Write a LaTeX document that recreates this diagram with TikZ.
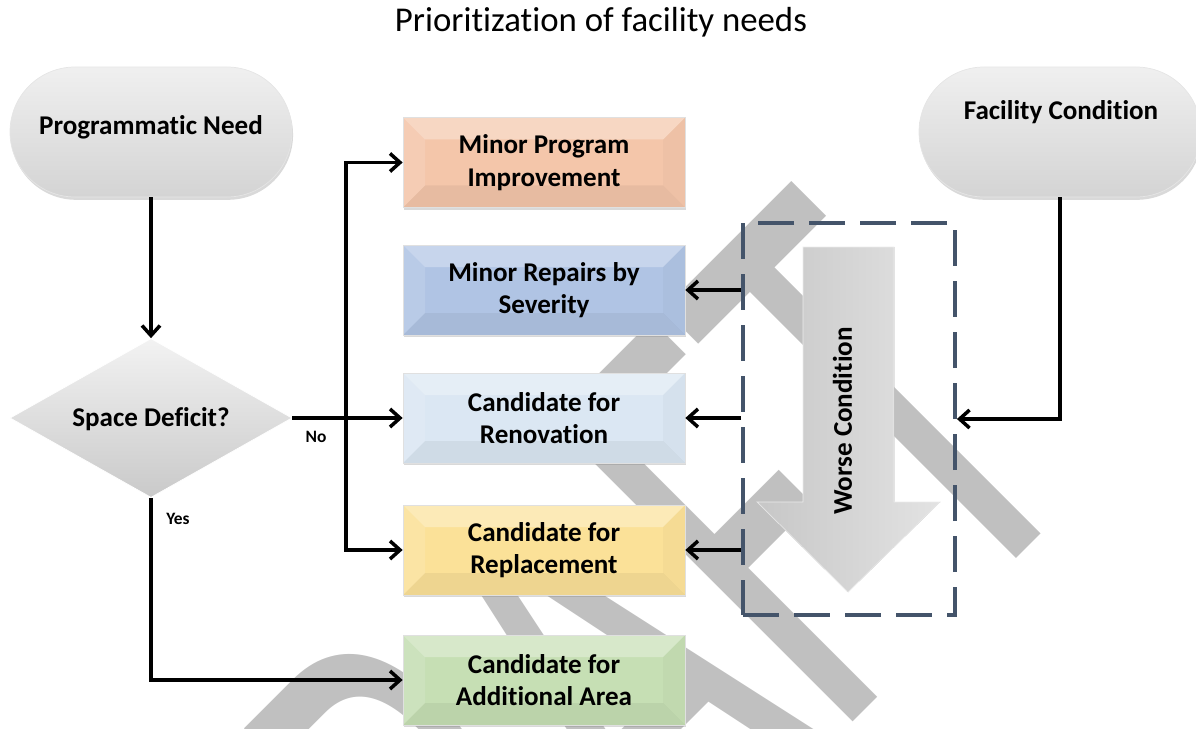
\documentclass[tikz,border=0pt]{standalone}
\usepackage{fontspec}
\setmainfont{Carlito}[Ligatures=NoCommon]
\usepackage{xcolor}
\usetikzlibrary{shapes, arrows.meta, shadows, calc, positioning}
\definecolor{facpeach}{RGB}{244,198,170}
\definecolor{facblue}{RGB}{176,196,228}
\definecolor{facpale}{RGB}{219,231,243}
\definecolor{facyellow}{RGB}{251,225,152}
\definecolor{facgreen}{RGB}{198,223,180}
\definecolor{facslate}{RGB}{68,84,106}
\definecolor{facwatermark}{RGB}{192,192,192}
\newcommand{\boxfont}{\bfseries\fontsize{15.4}{18.5}\selectfont}
\newcommand{\pb}{path picture bounding box}
\tikzset{bevel/.style={path picture={
    \fill [white, opacity=0.3] (\pb.north west) -- (\pb.north east) -- ([shift={(-#1,-#1)}]\pb.north east) -- ([shift={(#1,-#1)}]\pb.north west) -- cycle;
    \fill [white, opacity=0.12] (\pb.north west) -- ([shift={(#1,-#1)}]\pb.north west) -- ([shift={(#1,#1)}]\pb.south west) -- (\pb.south west) -- cycle;
    \fill [black, opacity=0.025] (\pb.north east) -- ([shift={(-#1,-#1)}]\pb.north east) -- ([shift={(-#1,#1)}]\pb.south east) -- (\pb.south east) -- cycle;
    \fill [black, opacity=0.05] (\pb.south west) -- ([shift={(#1,#1)}]\pb.south west) -- ([shift={(-#1,#1)}]\pb.south east) -- (\pb.south east) -- cycle;
}}}
\tikzset{box/.style={rectangle, draw=black!12, minimum width=5.64cm, minimum height=1.8cm, align=center, font=\boxfont, bevel=0.44cm, drop shadow={opacity=0.3, shadow xshift=0.6pt, shadow yshift=-1.4pt}}}
\tikzset{boxc1/.style={box, fill=facpeach}}
\tikzset{boxc2/.style={box, fill=facblue}}
\tikzset{boxc3/.style={box, fill=facpale}}
\tikzset{boxc4/.style={box, fill=facyellow}}
\tikzset{boxc5/.style={box, fill=facgreen}}
\tikzset{pill/.style={rectangle, rounded corners=1.3cm, minimum width=5.64cm, minimum height=2.6cm, draw=black!10, top color=black!6, bottom color=black!17, drop shadow={opacity=0.3, shadow xshift=0.6pt, shadow yshift=-1.6pt}}}
\tikzset{decision/.style={diamond, minimum width=5.64cm, minimum height=3.18cm, inner sep=0pt, draw=white, top color=black!5, bottom color=black!21}}
\tikzset{bigarrow/.style={draw=black!8, left color=black!22, right color=black!11}}
\tikzset{groupbox/.style={draw=facslate, line width=2.2pt, dash pattern=on 0.72cm off 0.3cm, minimum width=4.24cm, minimum height=7.84cm}}
\tikzset{edge/.style={line width=2pt, -{Straight Barb[length=0.2cm, width=0.36cm]}}}
\tikzset{nodetext/.style={font=\boxfont}}
\tikzset{edgetext/.style={font=\bfseries\fontsize{9.9}{12}\selectfont}}
\tikzset{watermark/.style={anchor=base east, inner sep=0pt, transform shape, text=facwatermark, font=\fontsize{222}{222}\selectfont}}

\begin{document}
\begin{tikzpicture}
            \useasboundingbox (0,0) rectangle (23.92,-14.58);

            \begin{scope}
                \clip (0,0) rectangle (23.92,-14.58);
                \begin{scope}[shift={(21.92,-9.58)}, rotate=45, yscale=1.7]
                    \node [watermark] (wm) at (0,0) {DRAFT};
                \end{scope}
            \end{scope}

            \node [font=\fontsize{19.8}{24}\selectfont] (title) at (12.02,-0.44) {Prioritization of facility needs};

            \node [pill] (prog) at (3.02,-2.64) {};
            \node [nodetext] (progT) at (3.02,-2.54) {Programmatic Need};
            \node [pill] (fac) at (21.2,-2.64) {};
            \node [nodetext] (facT) at (21.22,-2.24) {Facility Condition};

            \node [decision] (dec) at (3.02,-8.36) {};
            \node [nodetext] (decT) at (3.02,-8.38) {Space Deficit?};

            \node [boxc1] (minprog) at (10.88,-3.25) {Minor Program\\Improvement};
            \node [boxc2] (repair) at (10.88,-5.8) {Minor Repairs by\\Severity};
            \node [boxc3] (reno) at (10.88,-8.36) {Candidate for\\Renovation};
            \node [boxc4] (repl) at (10.88,-11.0) {Candidate for\\Replacement};
            \node [boxc5] (addl) at (10.88,-13.6) {Candidate for\\Additional Area};

            \node [groupbox] (cond) at (16.98,-8.38) {};
            \filldraw [bigarrow] (16.06,-4.94) -- (17.88,-4.94) -- (17.88,-10.04) -- (18.8,-10.04) -- (16.96,-11.84) -- (15.14,-10.04) -- (16.06,-10.04) -- cycle;
            \node [nodetext, rotate=90] (worse) at (16.85,-8.42) {Worse Condition};

            \coordinate (bus) at (6.92,-8.36);

            \draw [edge] (prog) -- (dec);
            \draw [edge] (dec) -- (reno);
            \draw [edge] (bus) |- (minprog);
            \draw [edge] (bus) |- (repl);
            \draw [edge] (dec) |- (addl);
            \draw [edge] (fac) |- (cond);
            \draw [edge] (cond.west |- repair) -- (repair);
            \draw [edge] (cond.west |- reno) -- (reno);
            \draw [edge] (cond.west |- repl) -- (repl);

            \node [edgetext] (no) at (6.32,-8.74) {No};
            \node [edgetext] (yes) at (3.56,-10.38) {Yes};
\end{tikzpicture}
\end{document}
